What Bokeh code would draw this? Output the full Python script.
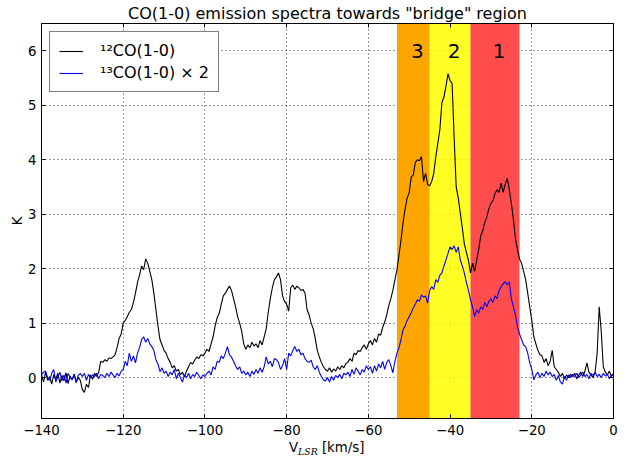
import numpy as np
from bokeh.plotting import figure
from bokeh.layouts import column
from bokeh.models import (ColumnDataSource, Range1d, LinearAxis, FixedTicker,
                          BoxAnnotation, Legend, LegendItem, Div)
from bokeh.core.properties import value
from bokeh.embed import file_html
from bokeh.resources import INLINE

# velocity channels (km/s), 0.5 km/s spacing
velocity = np.arange(-140.0, 0.25, 0.5)

# 12CO(1-0) brightness temperature (K)
t12 = [
    0.05, -0.08, 0.10, -0.05, 0.02, -0.12, 0.06, -0.03, 0.08, -0.10,
    0.04, -0.06, 0.09, -0.11, 0.03, -0.04, 0.07, -0.09, 0.01, -0.05,
    -0.22, -0.27, -0.12, -0.18, 0.05, -0.03, 0.08, 0.02, 0.10, 0.30,
    0.28, 0.33, 0.30, 0.36, 0.35, 0.38, 0.42, 0.55, 0.72, 0.80,
    1.00, 1.05, 1.12, 1.20, 1.25, 1.38, 1.55, 1.75, 1.88, 2.05,
    1.98, 2.18, 2.10, 1.95, 1.80, 1.55, 1.25, 0.95, 0.70, 0.60,
    0.50, 0.45, 0.35, 0.28, 0.18, 0.22, 0.12, 0.15, 0.05, 0.10,
    0.02, 0.12, 0.20, 0.28, 0.25, 0.32, 0.38, 0.35, 0.42, 0.40,
    0.45, 0.52, 0.48, 0.62, 0.75, 0.95, 1.10, 1.18, 1.35, 1.50,
    1.55, 1.62, 1.68, 1.60, 1.45, 1.30, 1.12, 1.00, 0.85, 0.62,
    0.52, 0.60, 0.55, 0.65, 0.58, 0.62, 0.55, 0.68, 0.60, 0.75,
    0.90, 1.20, 1.45, 1.65, 1.80, 1.85, 1.92, 1.80, 1.50, 1.40,
    1.35, 1.22, 1.65, 1.70, 1.62, 1.68, 1.65, 1.60, 1.62, 1.55,
    1.25, 1.15, 1.00, 0.90, 0.72, 0.50, 0.38, 0.28, 0.20, 0.15,
    0.12, 0.18, 0.10, 0.16, 0.12, 0.20, 0.15, 0.22, 0.18, 0.26,
    0.28, 0.35, 0.30, 0.45, 0.42, 0.50, 0.48, 0.55, 0.60, 0.52,
    0.62, 0.68, 0.60, 0.72, 0.65, 0.80, 0.78, 0.92, 1.02, 1.15,
    1.32, 1.45, 1.60, 1.80, 1.98, 2.25, 2.53, 2.85, 3.10, 3.30,
    3.40, 3.68, 3.72, 3.95, 4.00, 3.98, 4.06, 3.60, 3.75, 3.55,
    3.52, 3.60, 3.75, 4.05, 4.30, 4.55, 5.05, 5.15, 5.35, 5.58,
    5.45, 5.40, 4.40, 3.50, 3.30, 3.02, 2.75, 2.45, 2.30, 2.15,
    1.92, 2.10, 1.95, 2.15, 2.35, 2.60, 2.70, 2.85, 2.95, 3.10,
    3.20, 3.25, 3.38, 3.45, 3.40, 3.57, 3.40, 3.55, 3.66, 3.45,
    3.20, 2.90, 2.55, 2.35, 2.18, 2.10, 1.95, 1.80, 1.55, 1.30,
    1.05, 0.75, 0.62, 0.50, 0.42, 0.40, 0.28, 0.35, 0.22, 0.30,
    0.50, 0.20, 0.15, 0.10, 0.02, 0.08, -0.02, 0.05, 0.00, 0.06,
    0.02, 0.08, -0.02, 0.05, 0.10, 0.02, 0.12, 0.27, 0.10, 0.05,
    0.00, 0.10, 0.45, 1.30, 0.85, 0.20, 0.10, 0.05, 0.12, 0.02,
    0.08,
]

# 13CO(1-0) brightness temperature x 2 (K)
t13x2 = [
    0.05, 0.10, 0.12, 0.00, -0.05, 0.08, 0.15, -0.08, 0.02, 0.10,
    -0.06, 0.05, -0.10, 0.08, 0.00, -0.04, 0.06, -0.08, 0.04, 0.08,
    0.02, 0.08, -0.05, 0.06, 0.00, 0.05, 0.02, 0.08, -0.02, 0.06,
    0.04, 0.00, 0.08, 0.02, 0.10, 0.05, 0.00, 0.08, 0.03, 0.12,
    0.15, 0.30, 0.22, 0.45, 0.30, 0.40, 0.27, 0.45, 0.55, 0.70,
    0.75, 0.65, 0.72, 0.62, 0.57, 0.50, 0.33, 0.25, 0.11, 0.18,
    0.08, 0.12, 0.02, 0.10, 0.05, 0.15, -0.02, 0.08, 0.00, -0.08,
    0.05, 0.00, 0.08, -0.02, 0.06, 0.02, 0.10, 0.04, -0.02, 0.05,
    0.02, 0.08, 0.12, 0.05, 0.20, 0.15, 0.30, 0.28, 0.40, 0.35,
    0.45, 0.57, 0.42, 0.38, 0.30, 0.22, 0.15, 0.20, 0.08, 0.12,
    0.05, 0.10, 0.02, 0.12, 0.06, 0.15, 0.08, 0.18, 0.10, 0.20,
    0.38, 0.25, 0.30, 0.20, 0.35, 0.33, 0.28, 0.15, 0.22, 0.35,
    0.15, 0.45, 0.40, 0.50, 0.57, 0.48, 0.52, 0.42, 0.45, 0.35,
    0.30, 0.28, 0.32, 0.20, 0.15, 0.22, 0.10, 0.02, -0.04, -0.06,
    0.00, -0.08, 0.02, -0.05, 0.04, 0.00, 0.06, -0.02, 0.08, 0.05,
    0.10, 0.02, 0.15, 0.06, 0.18, 0.12, 0.05, 0.15, 0.10, 0.22,
    0.15, 0.20, 0.08, 0.22, 0.12, 0.25, 0.18, 0.30, 0.15, 0.28,
    0.33, 0.22, 0.09, 0.30, 0.45, 0.55, 0.70, 0.88, 0.95, 1.05,
    1.12, 1.19, 1.28, 1.35, 1.43, 1.40, 1.52, 1.48, 1.50, 1.37,
    1.60, 1.67, 1.62, 1.80, 1.75, 1.88, 1.92, 2.05, 2.16, 2.28,
    2.40, 2.35, 2.42, 2.30, 2.40, 2.16, 2.05, 1.92, 1.75, 1.60,
    1.43, 1.30, 1.12, 1.25, 1.18, 1.30, 1.25, 1.38, 1.30, 1.40,
    1.45, 1.38, 1.50, 1.45, 1.60, 1.67, 1.72, 1.76, 1.70, 1.76,
    1.45, 1.30, 1.15, 0.93, 0.80, 0.70, 0.60, 0.57, 0.45, 0.27,
    0.15, -0.04, 0.05, 0.10, 0.00, 0.08, 0.02, 0.12, 0.05, 0.10,
    0.02, 0.06, -0.05, 0.04, -0.08, -0.12, 0.02, -0.05, 0.05, 0.00,
    0.06, 0.02, 0.08, 0.00, 0.05, 0.10, 0.02, 0.06, -0.02, 0.08,
    0.04, 0.10, 0.02, 0.06, 0.00, 0.08, 0.03, 0.06, -0.02, 0.05,
    0.04,
]

# velocity bands (km/s)
band_left = [-53.0, -45.0, -35.0]
band_right = [-45.0, -35.0, -23.0]
band_colors = ["#ffa500", "#ffff00", "#ff4d4d"]
band_alpha = [1.0, 0.85, 1.0]
band_labels = ["3", "2", "1"]
band_label_x = [-48.0, -39.0, -28.0]
band_label_y = [6.0, 6.0, 6.0]

x_ticks = [-140, -120, -100, -80, -60, -40, -20, 0]
x_tick_labels = ["\u2212140", "\u2212120", "\u2212100", "\u221280", "\u221260",
                 "\u221240", "\u221220", "0"]
y_ticks = [0, 1, 2, 3, 4, 5, 6]
y_tick_labels = ["0", "1", "2", "3", "4", "5", "6"]

FONT = "DejaVu Sans"
TICK_FS = "13.3px"

assert len(t12) == len(velocity) and len(t13x2) == len(velocity)

src = ColumnDataSource(dict(v=velocity, t12=t12, t13=t13x2))

p = figure(width=630, height=440, output_backend="svg", toolbar_location=None,
           x_range=Range1d(-140, 0), y_range=Range1d(-0.75, 6.5),
           min_border_left=41, min_border_right=17, min_border_top=23,
           min_border_bottom=22, x_axis_location=None, y_axis_location=None,
           title='CO(1-0) emission spectra towards "bridge" region')
p.title.text_font = FONT
p.title.text_font_size = "16px"
p.title.text_font_style = "normal"
p.title.text_color = "black"
p.title.align = "center"
p.title.standoff = 2
p.outline_line_color = "black"
p.outline_line_width = 1
p.outline_line_alpha = 1
p.background_fill_color = "white"
p.border_fill_color = "white"


def make_axis(ticks, labels, show_labels):
    ax = LinearAxis(ticker=FixedTicker(ticks=ticks))
    if show_labels:
        ax.major_label_overrides = {t: l for t, l in zip(ticks, labels)}
        ax.major_label_text_font = FONT
        ax.major_label_text_font_size = TICK_FS
        ax.major_label_text_color = "black"
    else:
        ax.major_label_overrides = {t: "" for t in ticks}
        ax.major_label_text_font_size = "1px"
        ax.major_label_standoff = 0
    ax.major_tick_in = 4
    ax.major_tick_out = 0
    ax.minor_tick_line_color = None
    ax.major_tick_line_color = "black"
    ax.axis_line_color = "black"
    return ax


xb = make_axis(x_ticks, x_tick_labels, True)
xb.major_label_standoff = 6
p.add_layout(xb, "below")
xa = make_axis(x_ticks, x_tick_labels, False)
p.add_layout(xa, "above")
yl = make_axis(y_ticks, y_tick_labels, True)
yl.major_label_standoff = 5
yl.axis_label = "K"
yl.axis_label_text_font = FONT
yl.axis_label_text_font_size = TICK_FS
yl.axis_label_text_font_style = "normal"
yl.axis_label_text_color = "black"
yl.axis_label_standoff = 0
p.add_layout(yl, "left")
yr = make_axis(y_ticks, y_tick_labels, False)
p.add_layout(yr, "right")

# grid: dotted
p.xgrid.ticker = FixedTicker(ticks=x_ticks)
p.ygrid.ticker = FixedTicker(ticks=y_ticks)
for g in (p.xgrid, p.ygrid):
    g.grid_line_color = "black"
    g.grid_line_dash = "1 3"
    g.grid_line_width = 1
    g.grid_line_alpha = 0.8

# velocity bands
for l, r, c, a in zip(band_left, band_right, band_colors, band_alpha):
    p.add_layout(BoxAnnotation(left=l, right=r, fill_color=c, fill_alpha=a,
                               line_color=None, level="underlay"))

p.text(x=band_label_x, y=band_label_y, text=band_labels,
       text_font=value(FONT), text_font_size="20px", text_color="black",
       text_align="center", text_baseline="middle")

r12 = p.line("v", "t12", source=src, line_color="black", line_width=1.1)
r13 = p.line("v", "t13", source=src, line_color="#0000ff", line_width=1.1)

legend = Legend(items=[LegendItem(label="\u00b9\u00b2CO(1-0)", renderers=[r12]),
                       LegendItem(label="\u00b9\u00b3CO(1-0) \u00d7 2", renderers=[r13])],
                location="top_left", margin=8, padding=9, spacing=3,
                glyph_width=24, glyph_height=18, label_height=18,
                label_standoff=17, label_text_font=FONT,
                label_text_color="black",
                label_text_font_size="16px", border_line_color="black",
                border_line_width=1, background_fill_color="white",
                background_fill_alpha=1)
p.add_layout(legend, "center")

# x axis label: V_LSR [km/s]  (subscript needs HTML)
xlabel = Div(
    text=('<span style="font-family:\'DejaVu Sans\';font-size:13.3px;color:black;">V'
          '<span style="font-family:\'DejaVu Serif\';font-style:italic;font-size:9.3px;'
          'position:relative;top:3px;">LSR</span> [km/s]</span>'),
    width=630, height=17, margin=0,
    styles={"padding-left": "289px", "line-height": "15px", "margin": "0",
            "white-space": "nowrap"})

layout = column(p, xlabel, spacing=0)

open("out.html", "w").write(file_html(layout, INLINE))
